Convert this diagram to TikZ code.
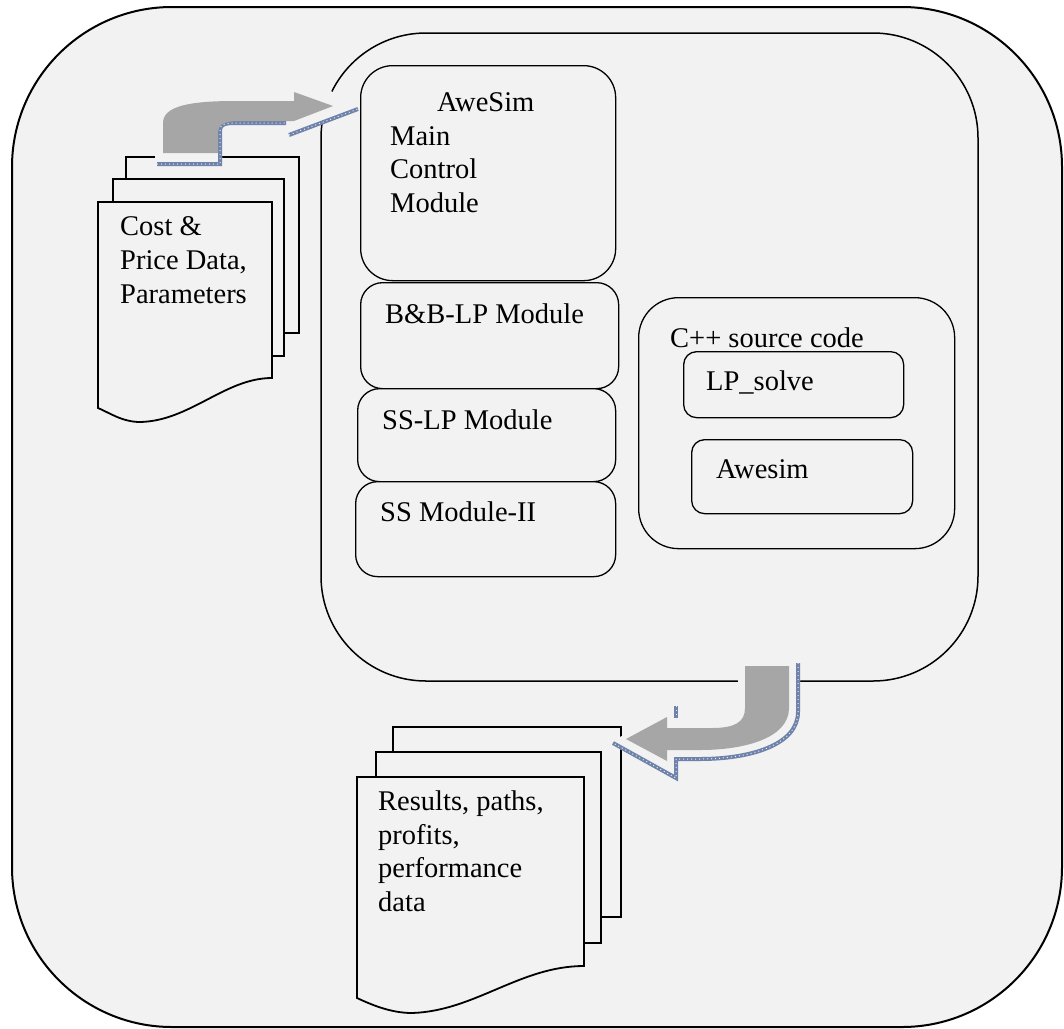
\documentclass[tikz,border=0pt]{standalone}
\usepackage{fontspec}
\setmainfont{Liberation Serif}

\begin{document}
\begin{tikzpicture}[x=1pt,y=-1pt]
%% Colors
\colorlet{bgCol}{black!5}
\colorlet{arrowCol}{black!35}
\definecolor{shadowCol}{RGB}{110,130,170}
%% Styles
\tikzset{
modbox/.style={draw, line width=1.3pt, fill=bgCol, rounded corners=#1, anchor=north west, inner sep=0pt},
txt/.style={inner sep=0pt, anchor=north west, align=left, font=\fontsize{28.5}{33.7}\selectfont},
page/.style={draw, line width=1.8pt, fill=bgCol},
shadowline/.style={draw=shadowCol, line width=4pt,
  postaction={draw=white!85!shadowCol, line width=1pt, dash pattern=on 1pt off 3pt}}
}
\useasboundingbox (0,0) rectangle (1064,1028);
\path[fill=white] (0,0) rectangle (1064,1028);

% Outer frame and simulation box
\path[draw, line width=2pt, fill=bgCol, rounded corners=160pt] (12,7) rectangle (1062,1027);
\path[draw, line width=1.5pt, rounded corners=105pt] (321,33) rectangle (978,681);

% Modules
\node[modbox=32pt, minimum width=255pt, minimum height=215pt] (main) at (360,65) {};
\node[modbox=22pt, minimum width=258pt, minimum height=106pt] (bblp) at (360,282) {};
\node[modbox=22pt, minimum width=258pt, minimum height=93pt] (sslp) at (357,388) {};
\node[modbox=22pt, minimum width=260pt, minimum height=95pt] (ssII) at (355,481) {};

% Source code
\node[modbox=40pt, minimum width=316pt, minimum height=251pt] (cpp) at (638,297) {};
\node[modbox=13pt, minimum width=220pt, minimum height=66pt] (lpsolve) at (683,351) {};
\node[modbox=13pt, minimum width=221pt, minimum height=74pt] (awesim) at (691,439) {};

% Input pages
\foreach \xa/\ya/\xb/\yb in {126/157/299/333, 113/179/284/356}{
\path[page] (\xa,\ya) rectangle (\xb,\yb);
}
\path[page] (98,202) -- (272,202) -- (272,378)
.. controls (225,378) and (190,421) .. (140,422)
.. controls (122,422) and (108,412) .. (98,408) -- cycle;

% Output pages
\foreach \xa/\ya/\xb/\yb in {393/727/621/917, 376/752/601/943}{
\path[page] (\xa,\ya) rectangle (\xb,\yb);
}
\path[page] (357,777) -- (584,777) -- (584,966)
.. controls (520,966) and (475,1011) .. (412,1013)
.. controls (390,1013) and (370,1004) .. (357,998) -- cycle;

% Input arrow
\path[fill=bgCol] (155,145) -- (155,166) -- (222,166) -- (222,130) -- (288,124)
-- (289,137) -- (360,109) -- (326,88) -- (294,84) -- (200,98) -- (160,125) -- cycle;
\path[shadowline] (157,164) -- (220,164) -- (220,130)
.. controls (220,124) and (226,123) .. (236,123) -- (286,123);
\path[shadowline] (289,135) -- (358,109);
\path[fill=arrowCol] (163,153) -- (163,123) .. controls (163,106) and (190,101) .. (235,101)
-- (294,101) -- (294,92) -- (333,106) -- (294,121) -- (238,121)
.. controls (224,121) and (218,125) .. (218,132) -- (218,153) -- cycle;

% Output arrow
\path[fill=bgCol] (736,661) -- (800,661) -- (800,712) .. controls (800,747) and (750,761) .. (700,761)
-- (678,761) -- (678,781) -- (609,743) -- (678,705) -- (740,700) -- cycle;
\path[shadowline] (798,663) -- (798,712) .. controls (798,745) and (750,759) .. (700,759)
-- (676,759) -- (676,778) -- (613,743);
\path[shadowline] (676,706) -- (676,718);
\path[fill=arrowCol] (745,666) -- (789,666) -- (789,708) .. controls (789,738) and (745,750) .. (700,750)
-- (667,750) -- (667,761) -- (626,739) -- (667,717) -- (667,728) -- (712,728)
.. controls (735,728) and (745,722) .. (745,708) -- cycle;

% Texts
\node[txt] (mainT) at (390,92.5) {\hspace*{47pt}AweSim\\Main\\Control\\Module};
\node[txt] (bblpT) at (385,303.5) {B\&B-LP Module};
\node[txt] (sslpT) at (382,409.5) {SS-LP Module};
\node[txt] (ssIIT) at (380,501.5) {SS Module-II};
\node[txt] (cppT) at (670,327.5) {C++ source code};
\node[txt] (lpsolveT) at (706,370.5) {LP\_solve};
\node[txt] (awesimT) at (716,459.5) {Awesim};
\node[txt] (costT) at (120,216.5) {Cost \&\\Price Data,\\Parameters};
\node[txt] (resT) at (378,790.5) {Results, paths,\\profits,\\performance\\data};

\end{tikzpicture}
\end{document}
